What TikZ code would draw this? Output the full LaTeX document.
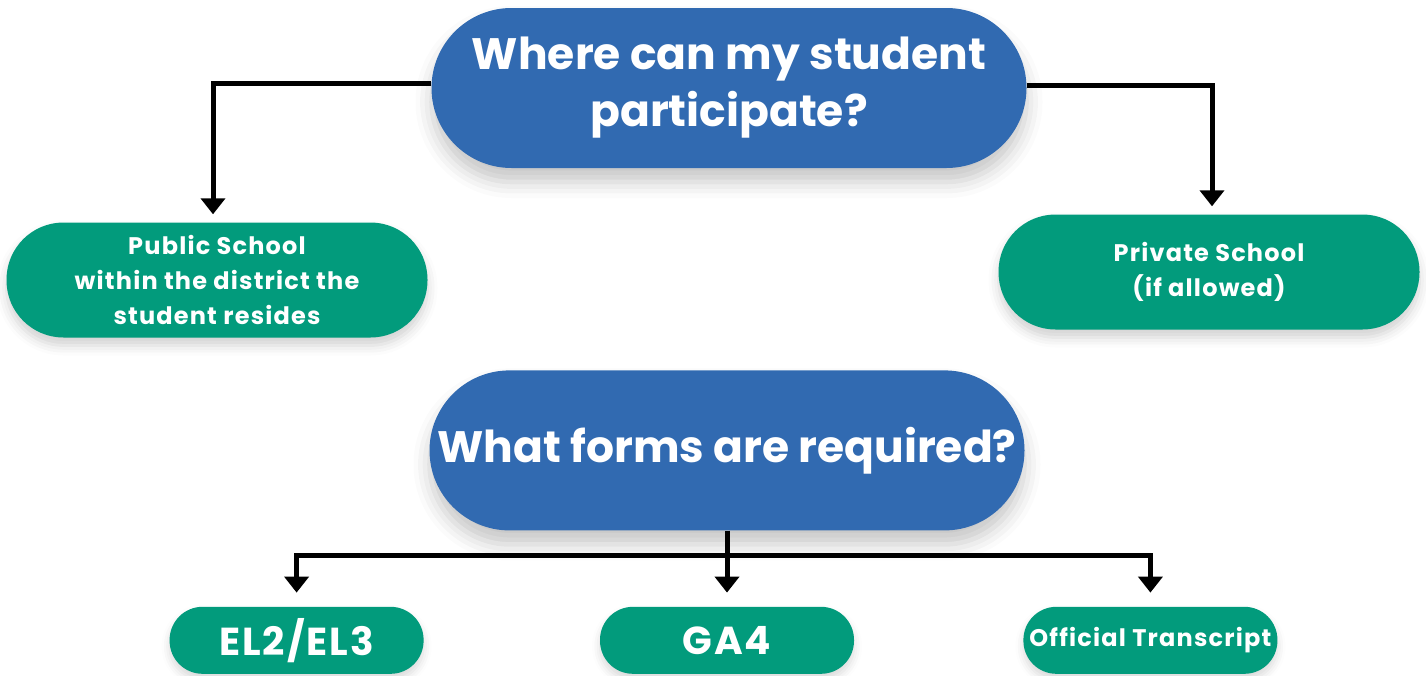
\documentclass[tikz,border=0pt]{standalone}
\usepackage{fontspec}
\setmainfont{Poppins}
\newfontfamily\spaced{Poppins}[LetterSpace=5]
\usepackage{xcolor}
\usetikzlibrary{positioning,arrows.meta,shadows.blur}

\definecolor{qblue}{HTML}{316AB1}
\definecolor{agreen}{HTML}{029B7C}

\tikzset{
  question/.style={fill=qblue, text=white, align=center, minimum width=595pt,
    minimum height=160pt, rounded corners=80pt, inner sep=0pt,
    font=\bfseries\fontsize{44}{57}\selectfont,
    blur shadow={shadow xshift=0pt, shadow yshift=-14pt, shadow blur radius=16pt, shadow opacity=22}},
  answer/.style={fill=agreen, text=white, align=center, minimum width=421pt,
    minimum height=115pt, rounded corners=57pt, inner sep=0pt,
    font=\spaced\bfseries\fontsize{24}{35}\selectfont,
    blur shadow={shadow xshift=0pt, shadow yshift=-8pt, shadow blur radius=10pt, shadow opacity=18}},
  formbox/.style={fill=agreen, text=white, align=center, minimum width=254pt,
    minimum height=67pt, rounded corners=33pt, inner sep=0pt,
    blur shadow={shadow xshift=0pt, shadow yshift=-6pt, shadow blur radius=8pt, shadow opacity=15}},
  link/.style={line width=5pt},
  arrow/.style={link, -{Triangle[width=24pt,length=16pt]}}
}

\begin{document}
\begin{tikzpicture}[x=1pt,y=-1pt]
  \useasboundingbox (0,0) rectangle (1426,675);
  \node[question] (where) at (729,88) {Where can my student\\participate?};
  \node[question] (forms) [below=202pt of where, xshift=-2pt] {What forms are required?};
  \node[answer] (public) at (217,280) {Public School\\within the district the\\student resides};
  \node[answer] (private) at (1209,272) {Private School\\(if allowed)};
  \node[formbox, font=\spaced\bfseries\fontsize{39}{40}\selectfont] (ga) [below=76pt of forms] {GA4};
  \node[formbox, font=\spaced\bfseries\fontsize{39}{40}\selectfont] (el) [left=176pt of ga] {EL2/EL3};
  \node[formbox, font=\spaced\bfseries\fontsize{24}{25}\selectfont] (transcript) [right=169pt of ga] {Official Transcript};
  \coordinate (bus) at (forms.south |- 0,555);
  \draw[arrow, shorten >=8pt] ([yshift=5pt]where.west) -| ([xshift=-4pt]public.north);
  \draw[arrow, shorten >=8pt] ([yshift=3pt]where.east) -| ([xshift=3pt]private.north);
  \draw[link] (forms.south) -- (bus);
  \draw[arrow, shorten >=14pt] (bus) -- (ga.north);
  \draw[arrow, shorten >=14pt] (bus) -| (el.north);
  \draw[arrow, shorten >=14pt] (bus) -| (transcript.north);
\end{tikzpicture}
\end{document}
